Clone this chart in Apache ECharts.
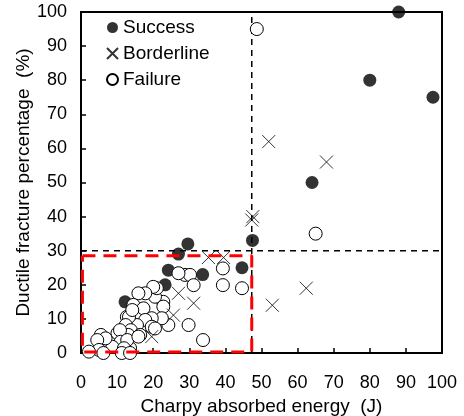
<!DOCTYPE html>
<html>
<head>
<meta charset="utf-8">
<script src="https://cdn.jsdelivr.net/npm/echarts@6/dist/echarts.min.js"></script>
<style>html,body{margin:0;padding:0;background:#fff}#c{width:464px;height:416px}</style>
</head>
<body>
<div id="c"></div>
<script>
const xTicks = [0,10,20,30,40,50,60,70,80,90,100];
const yTicks = [0,10,20,30,40,50,60,70,80,90,100];

const success = [[88,100],[80,80],[97.5,75],[64,50],[47.5,33],[29.6,32],[27,29],[24.2,24.3],[33.7,23],[23.3,20],[12.2,15],[44.6,25]];

const borderline = [[52,62],[68,56],[47.3,39],[47.6,40],[62.4,19],[53,14],[35.3,28],[39.5,28],[27,17.5],[31.2,14.6],[25.6,11.1],[19.6,4.8]];

const failure = [[48.7,95],[65,35],[44.6,19],[39.3,24.8],[39.3,19.9],[28.8,22.9],[30.2,22.9],[27,23.4],[31.2,19.9],
  [29.8,8.2],[33.8,3.8],[24.2,8.2],[22.8,15],[22.8,13.6],[20.5,16.5],[21,19],[20,19.4],[17.8,17.5],[15.9,17.5],
  [14.5,14.1],[17.3,13.1],[22.4,10.2],[19.6,10.2],[17.8,9.7],[15.5,8.2],[12.7,10.6],[13.3,10.6],[14.2,12.6],
  [12.4,8.2],[13.8,6.7],[19.6,7.7],[20.5,7.2],[16.4,5.3],[13.1,5.3],[10.1,5.8],[10.8,6.7],[12.2,2.8],[13.6,1.4],
  [11,3.3],[12.8,3.8],[8.7,1.8],[11.9,1.4],[5.5,5.3],[6.8,4.3],[4.5,3.8],[5,0.9],[2.2,0.4],[6.2,0],[11.3,0],[13.6,0],[15.9,4.8]];

const criticalEnergy = 47.3;
const criticalDuctile = 30;
const boxEnergy = 47.3;
const boxDuctile = 28.5;

const chart = echarts.init(document.getElementById('c'));
const font = 'Liberation Sans, Arial, sans-serif';
chart.setOption({
  animation: false,
  textStyle: {fontFamily: font},
  grid: {left: 81, right: 22, top: 12, bottom: 63, show: true, borderColor: '#000', borderWidth: 2,
    containLabel: false, outerBoundsMode: 'none'},
  legend: {
    orient: 'vertical', left: 101, top: 13, itemGap: 7, itemWidth: 11, itemHeight: 11,
    data: ['Success','Borderline','Failure'],
    textStyle: {fontSize: 19, color: '#000', fontFamily: font}
  },
  xAxis: {
    type: 'value', min: xTicks[0], max: xTicks[xTicks.length-1], interval: 10,
    name: 'Charpy absorbed energy  (J)', nameLocation: 'middle', nameGap: 36,
    nameTextStyle: {fontSize: 19, color: '#000', fontFamily: font},
    axisLine: {lineStyle: {color: '#000', width: 2}},
    axisTick: {inside: true, length: 5, lineStyle: {color: '#000', width: 1.5}},
    axisLabel: {fontSize: 18, color: '#000', margin: 21, fontFamily: font},
    splitLine: {show: false}
  },
  yAxis: {
    type: 'value', min: yTicks[0], max: yTicks[yTicks.length-1], interval: 10,
    name: 'Ductile fracture percentage  (%)', nameLocation: 'middle', nameGap: 48, nameMoveOverlap: false,
    nameTextStyle: {fontSize: 19, color: '#000', fontFamily: font},
    axisLine: {lineStyle: {color: '#000', width: 2}},
    axisTick: {inside: true, length: 5, lineStyle: {color: '#000', width: 1.5}},
    axisLabel: {fontSize: 18, color: '#000', margin: 14, fontFamily: font},
    splitLine: {show: false}
  },
  series: [
    {name: 'critE', type: 'line', data: [[criticalEnergy,0],[criticalEnergy,100]], symbol: 'none', silent: true,
      lineStyle: {color: '#000', width: 1.5, type: [6,5]}, z: 1},
    {name: 'critD', type: 'line', data: [[0,criticalDuctile],[100,criticalDuctile]], symbol: 'none', silent: true,
      lineStyle: {color: '#000', width: 1.5, type: [6,5]}, z: 1},
    {name: 'Success', type: 'scatter', data: success, symbol: 'circle', symbolSize: 13,
      itemStyle: {color: '#000'}, z: 3},
    {name: 'Failure', type: 'scatter', data: failure, symbol: 'circle', symbolSize: 13,
      itemStyle: {color: '#fff', borderColor: '#000', borderWidth: 1, opacity: 1}, z: 4},
    {name: 'Borderline', type: 'scatter', data: borderline, symbol: 'path://M0,0L10,10M10,0L0,10', symbolSize: 13,
      itemStyle: {color: 'rgba(0,0,0,0)', borderColor: '#000', borderWidth: 1}, z: 5},
    {name: 'box', type: 'line', data: [[0.4,boxDuctile],[boxEnergy,boxDuctile],[boxEnergy,0.3],[0.4,0.3],[0.4,boxDuctile]],
      symbol: 'none', silent: true, lineStyle: {color: '#ff0000', width: 3, type: [13,8]}, z: 6}
  ]
});
</script>
</body>
</html>
